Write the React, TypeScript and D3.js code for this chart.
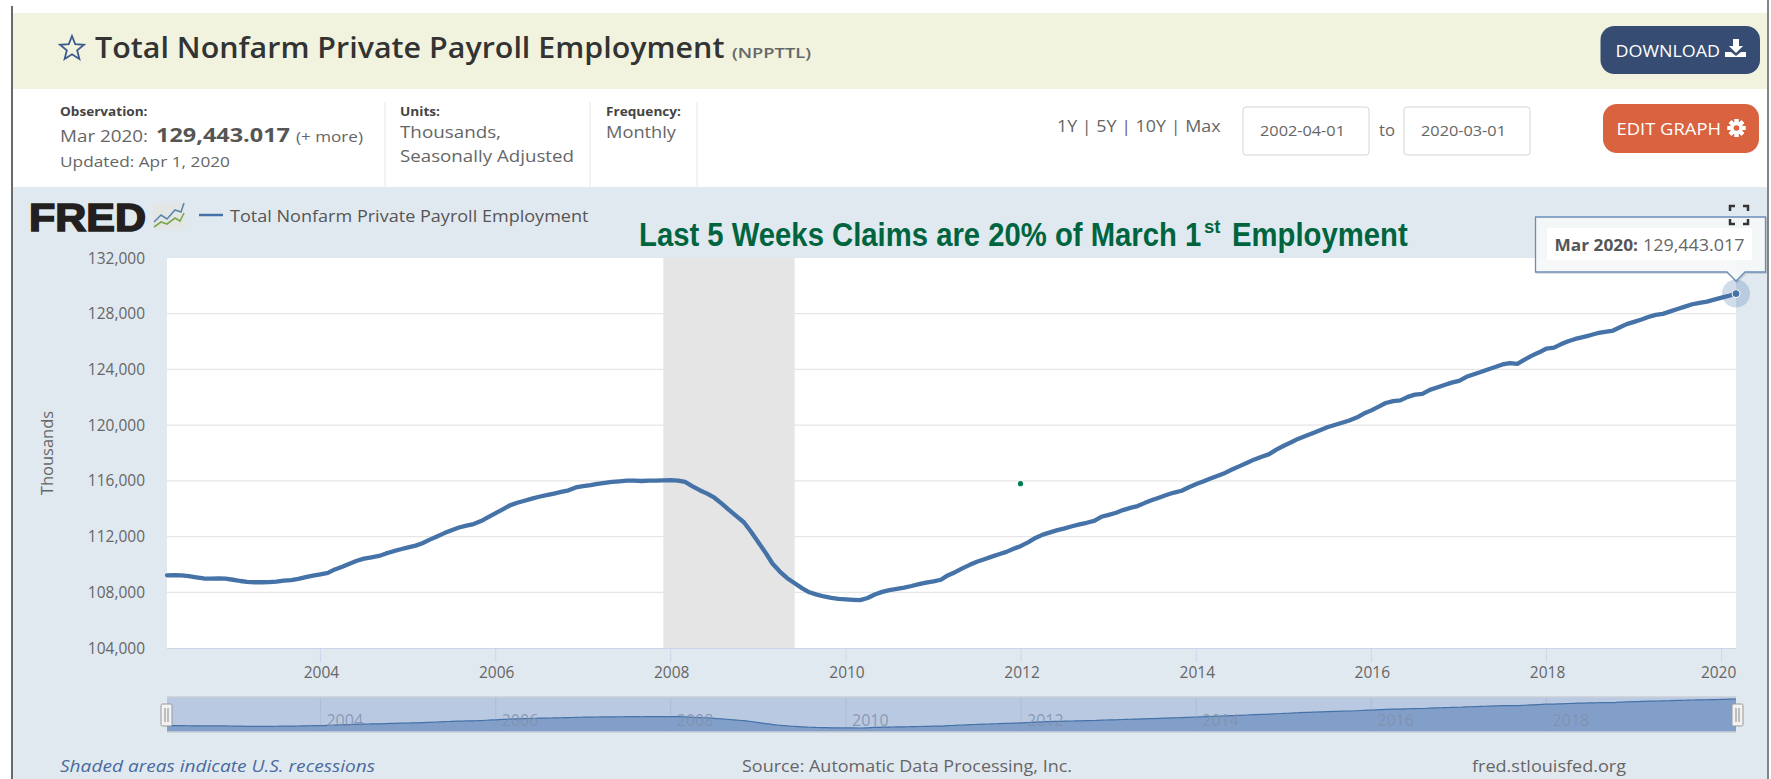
import React from "react";
import * as d3 from "d3";

// monthly values, thousands (Apr 2002 .. Mar 2020)
const payroll2002 = [109220, 109230, 109220, 109160, 109070, 108990, 108980, 109000, 108980];
const payroll2003 = [108900, 108810, 108745, 108720, 108720, 108730, 108770, 108830, 108880, 108960, 109090, 109200];
const payroll2004 = [109290, 109390, 109640, 109830, 110050, 110260, 110420, 110510, 110610, 110790, 110950, 111090];
const payroll2005 = [111230, 111350, 111520, 111780, 112010, 112250, 112460, 112650, 112790, 112900, 113110, 113390];
const payroll2006 = [113680, 113970, 114240, 114430, 114570, 114720, 114860, 114970, 115090, 115210, 115320, 115530];
const payroll2007 = [115620, 115700, 115790, 115860, 115920, 115960, 116010, 116020, 115990, 116010, 116020, 116040];
const payroll2008 = [116050, 116020, 115920, 115610, 115330, 115080, 114790, 114360, 113900, 113470, 113030, 112350];
const payroll2009 = [111580, 110800, 110050, 109470, 109010, 108650, 108300, 108000, 107830, 107700, 107600, 107530];
const payroll2010 = [107490, 107460, 107440, 107590, 107840, 108030, 108150, 108240, 108340, 108450, 108590, 108700];
const payroll2011 = [108790, 108900, 109210, 109440, 109720, 109970, 110190, 110370, 110560, 110730, 110900, 111120];
const payroll2012 = [111330, 111600, 111900, 112140, 112300, 112460, 112590, 112740, 112870, 112990, 113130, 113420];
const payroll2013 = [113560, 113710, 113900, 114060, 114190, 114420, 114620, 114810, 115000, 115160, 115290, 115540];
const payroll2014 = [115770, 115970, 116170, 116370, 116570, 116830, 117060, 117300, 117540, 117730, 117920, 118240];
const payroll2015 = [118520, 118770, 119010, 119220, 119420, 119640, 119850, 120010, 120170, 120330, 120540, 120830];
const payroll2016 = [121060, 121330, 121590, 121730, 121780, 122030, 122190, 122250, 122530, 122700, 122880, 123050];
const payroll2017 = [123180, 123470, 123640, 123810, 124000, 124170, 124360, 124460, 124400, 124700, 124990, 125230];
const payroll2018 = [125500, 125560, 125800, 126020, 126190, 126320, 126450, 126600, 126700, 126760, 127010, 127250];
const payroll2019 = [127410, 127580, 127760, 127920, 127990, 128170, 128340, 128510, 128680, 128780, 128870, 129010];
const payroll2020 = [129150, 129290, 129443.017];

const payroll = [
  ...payroll2002, ...payroll2003, ...payroll2004, ...payroll2005, ...payroll2006, ...payroll2007,
  ...payroll2008, ...payroll2009, ...payroll2010, ...payroll2011, ...payroll2012, ...payroll2013,
  ...payroll2014, ...payroll2015, ...payroll2016, ...payroll2017, ...payroll2018, ...payroll2019, ...payroll2020,
];

const startDate = new Date(Date.UTC(2002, 3, 1));
const endDate = new Date(Date.UTC(2020, 2, 1));
const recession = [new Date(Date.UTC(2007, 11, 1)), new Date(Date.UTC(2009, 5, 1))];
const yTicks = [104000, 108000, 112000, 116000, 120000, 124000, 128000, 132000];
const xYears = [2004, 2006, 2008, 2010, 2012, 2014, 2016, 2018, 2020];
const navYears = [2004, 2006, 2008, 2010, 2012, 2014, 2016, 2018];

const W = 1771;
const H = 779;
const plot = { left: 167, right: 1736, top: 258, bottom: 648 };
const nav = { top: 697, bottom: 732, lineTop: 699, lineBottom: 728 };

const font = "'Open Sans', sans-serif";
const narrow = "'Liberation Sans', sans-serif";
const blue = "#4572a7";
const gray = "#666";
const green = "#00653f";

const points = payroll.map((v, i) => ({ date: new Date(Date.UTC(2002, 3 + i, 1)), v }));
const last = points[points.length - 1];

const x = d3.scaleUtc().domain([startDate, endDate]).range([plot.left, plot.right]);
const y = d3.scaleLinear().domain([104000, 132000]).range([plot.bottom, plot.top]);
const navY = d3.scaleLinear().domain([d3.min(payroll)!, d3.max(payroll)!]).range([nav.lineBottom, nav.lineTop]);
const yearX = (yr: number) => x(new Date(Date.UTC(yr, 0, 1)));

const mainLine = d3.line<{ date: Date; v: number }>().x((d) => x(d.date)).y((d) => y(d.v));
const navLine = d3.line<{ date: Date; v: number }>().x((d) => x(d.date)).y((d) => navY(d.v)).curve(d3.curveMonotoneX);
const navArea = d3
  .area<{ date: Date; v: number }>()
  .x((d) => x(d.date))
  .y0(nav.bottom)
  .y1((d) => navY(d.v))
  .curve(d3.curveMonotoneX);

// the screenshot is stretched sideways, so page text is pinned to its measured span
function Label({ x0, x1, base, size, fill = gray, weight, italic, family, children }: any) {
  return (
    <text
      x={x0}
      y={base}
      fontSize={size}
      fill={fill}
      fontWeight={weight}
      fontStyle={italic ? "italic" : undefined}
      fontFamily={family}
      textLength={x1 - x0}
      lengthAdjust="spacingAndGlyphs"
    >
      {children}
    </text>
  );
}

function NavHandle({ cx }: { cx: number }) {
  return (
    <g>
      <rect x={cx - 5.5} y={704} width={11} height={22} rx={1.5} fill="#f2f2f2" stroke="#999" />
      <line x1={cx - 1.5} x2={cx - 1.5} y1={708} y2={722} stroke="#888" />
      <line x1={cx + 1.5} x2={cx + 1.5} y1={708} y2={722} stroke="#888" />
    </g>
  );
}

function Gear({ cx, cy }: { cx: number; cy: number }) {
  const teeth = d3.range(8).map((i) => (i * 360) / 8);
  return (
    <g>
      {teeth.map((a) => (
        <rect key={a} x={cx - 2} y={cy - 9} width={4} height={18} fill="#fff" transform={`rotate(${a} ${cx} ${cy})`} />
      ))}
      <circle cx={cx} cy={cy} r={6.5} fill="#fff" />
      <circle cx={cx} cy={cy} r={2.8} fill="#d9623f" />
    </g>
  );
}

export default function App() {
  return (
    <svg
      width={W}
      height={H}
      viewBox={`0 0 ${W} ${H}`}
      style={{ position: "absolute", left: 0, top: 0, background: "#fff" }}
      fontFamily={font}
    >
      {/* header band */}
      <rect x={13} y={13} width={1754} height={76} fill="#f1f3df" />
      <polygon
        points="72,36 75.2,44.2 84,44.8 77.2,50.4 79.4,59 72,54.3 64.6,59 66.8,50.4 60,44.8 68.8,44.2"
        fill="none"
        stroke="#3d5a8c"
        strokeWidth={1.8}
      />
      <Label x0={95} x1={724.5} base={58} size={28.5} weight={600} fill="#333">
        Total Nonfarm Private Payroll Employment
      </Label>
      <Label x0={732} x1={811} base={58} size={14.5} weight={600}>
        (NPPTTL)
      </Label>
      <rect x={1600.5} y={26} width={159.5} height={48} rx={14} fill="#364c72" />
      <Label x0={1615.5} x1={1720} base={56.5} size={16.5} fill="#fff">
        DOWNLOAD
      </Label>
      <path d="M1733 39h6v7h4l-7 7-7-7h4z M1731 52l5 4 5-4h5v5h-21v-5z" fill="#fff" />

      {/* observation row */}
      <Label x0={60} x1={147.5} base={116} size={12} weight={700} fill="#444">
        Observation:
      </Label>
      <Label x0={60} x1={148} base={141.5} size={15.5}>
        Mar 2020:
      </Label>
      <Label x0={156} x1={290} base={141.5} size={19} weight={700} fill="#555">
        129,443.017
      </Label>
      <Label x0={296} x1={363} base={141.5} size={14.5}>
        (+ more)
      </Label>
      <Label x0={60} x1={230} base={166.5} size={15}>
        Updated: Apr 1, 2020
      </Label>
      {[385, 590, 697].map((dx) => (
        <line key={dx} x1={dx} x2={dx} y1={102} y2={187} stroke="#e3e8ee" />
      ))}
      <Label x0={400} x1={440} base={116} size={12} weight={700} fill="#444">
        Units:
      </Label>
      <Label x0={400} x1={501} base={138} size={16.5}>
        Thousands,
      </Label>
      <Label x0={400} x1={574} base={162} size={16.5}>
        Seasonally Adjusted
      </Label>
      <Label x0={606} x1={681} base={116} size={12} weight={700} fill="#444">
        Frequency:
      </Label>
      <Label x0={606} x1={676} base={138} size={16.5}>
        Monthly
      </Label>
      <Label x0={1057} x1={1220.5} base={131.5} size={16.5}>
        1Y | 5Y | 10Y | Max
      </Label>
      {[
        { bx: 1243, label: "2002-04-01" },
        { bx: 1404, label: "2020-03-01" },
      ].map((b) => (
        <g key={b.bx}>
          <rect x={b.bx} y={107} width={126} height={48} rx={3} fill="#fff" stroke="#d5d5d5" />
          <Label x0={b.bx + 17} x1={b.bx + 102} base={136} size={14.5}>
            {b.label}
          </Label>
        </g>
      ))}
      <Label x0={1379} x1={1395} base={136} size={16.5}>
        to
      </Label>
      <rect x={1603} y={104} width={156} height={49} rx={14} fill="#d9623f" />
      <Label x0={1616.5} x1={1721} base={135} size={16.5} fill="#fff">
        EDIT GRAPH
      </Label>
      <Gear cx={1736.5} cy={128} />

      {/* chart panel */}
      <rect x={13} y={187} width={1754} height={592} fill="#e1e9f0" />
      <text x={29} y={231} fontFamily={narrow} fontSize={38} fontWeight={700} fill="#231f20" stroke="#231f20" strokeWidth={1.6} textLength={117} lengthAdjust="spacingAndGlyphs">
        FRED
      </text>
      <rect x={153} y={203} width={32} height={27} rx={2} fill="#e4e6e6" />
      <path d="M154 222l7-7 6 4 8-9 6 2 3-9" fill="none" stroke="#5b86ad" strokeWidth={1.6} />
      <path d="M154 227l7-5 6 2 8-6 5 3 4-8" fill="none" stroke="#7ba84f" strokeWidth={1.6} />
      <line x1={199} x2={223} y1={215} y2={215} stroke={blue} strokeWidth={2.5} />
      <Label x0={230} x1={588.5} base={222} size={16.5} fill="#555">
        Total Nonfarm Private Payroll Employment
      </Label>
      {/* condensed by scaling, Liberation Sans has no narrow cut here */}
      <text transform="translate(639,245.5) scale(0.887,1)" fontSize={33} fontWeight={700} fill={green} fontFamily={narrow}>
        Last 5 Weeks Claims are 20% of March 1
      </text>
      <text x={1204} y={233} fontSize={18.5} fontWeight={700} fill={green} fontFamily={narrow}>
        st
      </text>
      <text transform="translate(1232,245.5) scale(0.887,1)" fontSize={33} fontWeight={700} fill={green} fontFamily={narrow}>
        Employment
      </text>

      {/* plot */}
      <rect x={plot.left} y={plot.top} width={plot.right - plot.left} height={plot.bottom - plot.top} fill="#fff" />
      <rect
        x={x(recession[0])}
        y={plot.top}
        width={x(recession[1]) - x(recession[0])}
        height={plot.bottom - plot.top}
        fill="#e5e5e5"
      />
      {yTicks.map((t) => (
        <g key={t}>
          {t > 104000 && t < 132000 && (
            <line x1={plot.left} x2={plot.right} y1={y(t)} y2={y(t)} stroke="#e6e6e6" strokeWidth={1.2} />
          )}
          <text x={145} y={y(t) + 5.5} fontSize={15.5} fill={gray} textAnchor="end">
            {d3.format(",")(t)}
          </text>
        </g>
      ))}
      <line x1={plot.left} x2={plot.right} y1={plot.bottom + 0.5} y2={plot.bottom + 0.5} stroke="#ccd6eb" />
      {xYears.map((yr) => (
        <g key={yr}>
          <line x1={yearX(yr)} x2={yearX(yr)} y1={plot.bottom} y2={662} stroke="#ccd6eb" />
          <text x={yr === 2020 ? yearX(yr) - 3 : yearX(yr) + 1} y={678} fontSize={15.5} fill={gray} textAnchor="middle">
            {yr}
          </text>
        </g>
      ))}
      <text
        transform={`translate(53,${(plot.top + plot.bottom) / 2}) rotate(-90)`}
        fontSize={16.5}
        fill={gray}
        textAnchor="middle"
      >
        Thousands
      </text>
      <path d={mainLine(points) ?? ""} fill="none" stroke={blue} strokeWidth={4.3} strokeLinejoin="round" strokeLinecap="round" />
      <circle cx={1020.5} cy={483.7} r={2.6} fill="#008050" />

      {/* hover marker and tooltip */}
      <circle cx={x(last.date)} cy={y(last.v)} r={14} fill={blue} fillOpacity={0.25} />
      <circle cx={x(last.date)} cy={y(last.v)} r={4} fill={blue} stroke="#fff" strokeWidth={1} />
      <path
        d="M1536.5 218H1766.5V273H1746L1737 282L1728 273H1536.5Z"
        fill="none"
        stroke="#000"
        strokeOpacity={0.12}
        strokeWidth={2}
      />
      <path
        d="M1535.5 217H1765.5V272H1745L1736 281L1727 272H1535.5Z"
        fill="#f5f7f9"
        fillOpacity={0.92}
        stroke="#6b8db8"
        strokeWidth={1.3}
      />
      <rect x={1547} y={228} width={205} height={32} fill="#fff" />
      <Label x0={1554.5} x1={1638} base={250.5} size={15.5} weight={700} fill="#555">
        Mar 2020:
      </Label>
      <Label x0={1643} x1={1744.5} base={250.5} size={15.5}>
        129,443.017
      </Label>
      <path d="M1730 211v-5h5 M1743 206h5v5 M1748 219v5h-5 M1735 224h-5v-5" fill="none" stroke="#333" strokeWidth={2.5} />

      {/* navigator */}
      <rect x={plot.left} y={nav.top} width={plot.right - plot.left} height={nav.bottom - nav.top} fill="#b9c9e2" />
      <path d={navArea(points) ?? ""} fill="#829fc9" />
      <path d={navLine(points) ?? ""} fill="none" stroke={blue} strokeWidth={1.2} />
      {navYears.map((yr) => (
        <g key={yr}>
          <line x1={yearX(yr)} x2={yearX(yr)} y1={nav.top} y2={nav.bottom} stroke="#8a9ab8" strokeOpacity={0.25} />
          <text x={yearX(yr) + 6} y={726} fontSize={16} fill="#8190ab" fillOpacity={0.85}>
            {yr}
          </text>
        </g>
      ))}
      <line x1={plot.left} x2={plot.right} y1={nav.top} y2={nav.top} stroke="#c9ced6" strokeWidth={1.5} />
      <line x1={plot.left} x2={plot.right} y1={nav.bottom} y2={nav.bottom} stroke="#c9ced6" strokeWidth={1.5} />
      <NavHandle cx={166.5} />
      <NavHandle cx={1737.5} />

      {/* footer */}
      <Label x0={60} x1={375} base={772} size={16.5} italic fill="#4a6b9d">
        Shaded areas indicate U.S. recessions
      </Label>
      <Label x0={742} x1={1072} base={772} size={16.5}>
        Source: Automatic Data Processing, Inc.
      </Label>
      <Label x0={1472} x1={1626} base={772} size={16.5}>
        fred.stlouisfed.org
      </Label>

      {/* screenshot edges */}
      <line x1={12} x2={12} y1={6} y2={H} stroke="#444" strokeWidth={1.6} />
      <line x1={1768} x2={1768} y1={0} y2={H} stroke="#666" strokeWidth={1.6} />
    </svg>
  );
}
